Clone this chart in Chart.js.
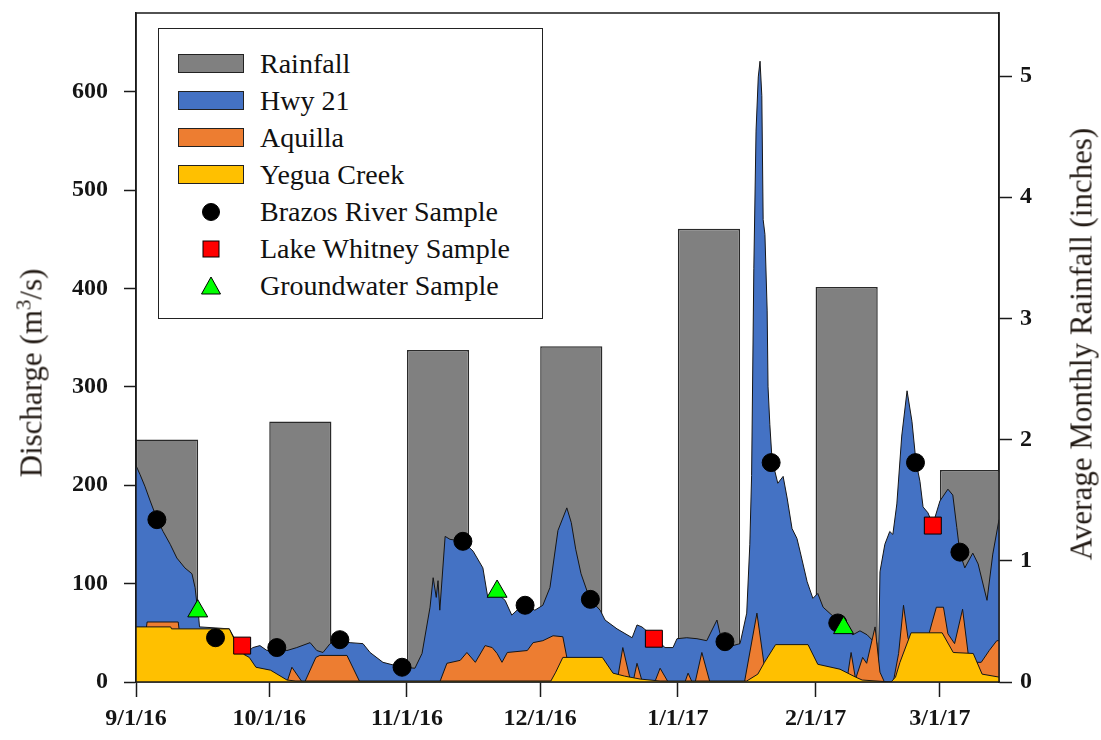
<!DOCTYPE html>
<html>
<head>
<meta charset="utf-8">
<title>Discharge and rainfall, Sep 2016 - Mar 2017</title>
<script src="https://cdn.jsdelivr.net/npm/chart.js@4.4.1/dist/chart.umd.min.js"></script>
<style>
  html, body { margin: 0; padding: 0; background: #fff; }
  #wrap { position: relative; width: 1101px; height: 740px; font-family: "Liberation Serif", "Times New Roman", serif; color: #111; }
  #chart { position: absolute; left: 0; top: 0; }
  .axis-title { position: absolute; white-space: nowrap; font-size: 31px; line-height: 1; color: #221a14;
                transform: translate(-50%, -50%) rotate(-90deg); }
  .axis-title sup { font-size: 0.68em; line-height: 0; }
  #legend { position: absolute; left: 158px; top: 28px; width: 385px; height: 291px; box-sizing: border-box;
            border: 1.5px solid #222; background: #fff; }
  .lg-row { position: absolute; left: 0; right: 0; height: 36px; }
  .lg-swatch { position: absolute; left: 19px; top: 8px; width: 66px; height: 19px; box-sizing: border-box; border: 1.5px solid #222; }
  .lg-mark { position: absolute; left: 41px; top: 7px; width: 22px; height: 22px; }
  .lg-text { position: absolute; left: 101px; top: 0; line-height: 36px; font-size: 28px; white-space: nowrap; color: #111; }
</style>
</head>
<body>
<div id="wrap">
  <canvas id="chart" width="1101" height="740"></canvas>
  <div class="axis-title" style="left:31px; top:373px;">Discharge (m<sup>3</sup>/s)</div>
  <div class="axis-title" style="left:1081px; top:344px;">Average Monthly Rainfall (inches)</div>
  <div id="legend"></div>
</div>
<script>
// Time axis: days since 9/1/16
const monthDays   = [0, 30, 61, 91, 122, 153, 181];
const monthLabels = ['9/1/16', '10/1/16', '11/1/16', '12/1/16', '1/1/17', '2/1/17', '3/1/17'];
const lastDay = 194.3;

// Tick values of the two value axes
const dischargeTicks = [0, 100, 200, 300, 400, 500, 600];
const rainfallTicks  = [0, 1, 2, 3, 4, 5];

// Average monthly rainfall (inches); each bar covers the first 14 days of its month
const rainfallInches = [2.0, 2.15, 2.74, 2.77, 3.74, 3.26, 1.75];
const RAIN_BAR_DAYS = 14;

// Daily discharge (m3/s) as [day, value]
const hwy21 = [
  [0,220],[0.9,211],[2,199],[3.2,184],[4.7,166],[6.1,153],[7.7,140],[9.2,126],[11,116],[12.6,110],
  [13.3,96],[13.7,80],[14,72],[14.3,56],[17.8,55],[21,54],[22.7,40],[24.5,28],[26.3,35],[27.9,37],
  [29.5,32],[31.7,35],[34,32],[36.2,35],[39.2,40],[40.7,32],[42.1,30],[43.7,39],[45.5,44],[48.2,40],
  [51.1,39],[52.7,30],[55.6,20],[59.9,15],[62.8,14],[64.4,29],[66.2,76],[66.9,106],[67.6,86],[68,103],
  [68.4,73],[69.6,148],[70.7,145],[73.6,143],[75.9,133],[78.1,116],[79.2,86],[81.3,90],[83.1,83],[84.6,68],
  [85.8,73],[87.6,78],[89.8,73],[91.6,78],[93.2,96],[95,154],[97,177],[98,162],[99,135],[100.2,110],
  [102.2,84],[104.5,73],[105.6,63],[108.3,54],[111.7,45],[112.8,58],[113.9,56],[116.8,45],[119.1,35],[120.9,35],
  [121.8,44],[124,45],[126.3,44],[128.5,42],[130.8,63],[131.5,49],[132.6,41],[134.4,37],[136,39],[137.5,70],
  [138.2,140],[138.6,210],[139.1,420],[139.6,560],[140.1,615],[140.5,631],[140.9,596],[141.2,470],[141.6,455],[142.1,378],
  [142.3,300],[142.7,262],[143.2,226],[144.5,202],[145.7,209],[146.6,187],[147.7,156],[148.8,146],[149.5,133],[151.1,102],
  [152.4,85],[153.5,90],[154.7,76],[156.9,67],[158,62],[159.6,55],[161.4,48],[163,52],[164.6,48],[165.9,42],
  [166.8,40],[167.1,2],[167.5,112],[168.6,140],[169.7,153],[170.4,150],[171.3,181],[172.4,250],[173.6,296],[174.7,265],
  [175.6,224],[176.5,204],[177.2,178],[178.3,172],[179.4,160],[181,184],[182.8,196],[183.9,190],[184.8,157],[185.5,131],
  [186.6,116],[188.4,131],[189.6,120],[191.6,83],[192.9,130],[194.3,165]
];
const aquilla = [
  [0,48],[2.2,50],[2.5,61],[9.5,61],[9.8,50],[20,42],[24,20],[27,8],[32,2],[34,0],
  [35.1,15],[37.4,0],[38,0],[40.5,25],[41.4,27],[47.5,27],[50.4,0],[68.4,0],[70,19],[73,22],
  [74.5,30],[76.4,20],[78.6,37],[80.2,35],[81.3,29],[82.4,20],[83.6,30],[88.1,32],[89.4,40],[91.6,42],
  [93.9,47],[96.1,46],[97,25],[98,5],[100,0],[108.3,0],[109.6,35],[111.4,0],[111.9,0],[112.8,19],
  [114,0],[116.8,0],[118,14],[119.8,0],[123.6,0],[124.3,9],[125.2,0],[125.9,0],[127.4,30],[129.2,0],
  [137,0],[139.8,70],[141.5,15],[142.5,20],[143.2,31],[144,22],[151,22],[154,10],[158,3],[160,0],
  [161,30],[162,3],[163.6,25],[164.5,19],[166.4,56],[167.5,10],[168.5,0],[170.5,0],[171.7,29],[172.8,78],
  [173.8,45],[174.5,35],[178,40],[179.2,60],[180.2,76],[181.8,76],[182.8,49],[184.3,39],[186.1,74],[187.6,20],
  [190.3,20],[192.1,32],[193.8,42],[194.3,42]
];
const yeguaCreek = [
  [0,56],[7.8,56],[8,54],[21,54],[22.5,40],[24.3,28],[25.5,25],[27,15],[30.3,12],[34,2],
  [36,1],[93.4,1],[94.5,10],[96.1,25],[105,25],[107.4,9],[110,6],[113.5,3],[118,1],[137.5,1],
  [140,8],[141.5,20],[144,38],[151.3,38],[153.5,18],[158.5,13],[162,5],[163.5,2],[170,0],[171,5],
  [172,20],[174.5,50],[181.5,50],[184,30],[188.5,29],[190.5,8],[194.3,5]
];

// Sample dates and discharge at sampling (m3/s)
const brazosSamples      = [[4.7,165],[17.9,45],[31.7,35],[45.9,43],[59.9,15],[73.6,143],[87.6,78],[102.3,84],[132.6,41],[143,223],[158,60],[175.5,223],[185.5,132]];
const whitneySamples     = [[23.9,37],[116.6,44],[179.4,159]];
const groundwaterSamples = [[13.9,72],[81.3,92],[159.3,55]];

const toXY = pts => pts.map(([x, y]) => ({ x, y }));

const areaStyle = (label, color, order, data) => ({
  type: 'line', label, data: toXY(data), yAxisID: 'y', order,
  backgroundColor: color, borderColor: '#151515', borderWidth: 1,
  fill: 'origin', pointRadius: 0, tension: 0
});

const markStyle = (label, style, radius, color, order, data) => ({
  type: 'scatter', label, data: toXY(data), yAxisID: 'y', order,
  pointStyle: style, pointRadius: radius, pointHoverRadius: radius,
  backgroundColor: color, borderColor: '#000', borderWidth: 1, showLine: false
});

const rainfallSet = {
  type: 'bar', label: 'Rainfall', yAxisID: 'y2', order: 10, clip: 0,
  data: rainfallInches.map((v, i) => ({ x: monthDays[i] + RAIN_BAR_DAYS / 2, y: v })),
  backgroundColor: '#808080', borderColor: '#2a2a2a', borderWidth: 1.5, borderSkipped: false,
  barPercentage: 0.5, categoryPercentage: 1
};
const hwySet     = areaStyle('Hwy 21', '#4472C4', 6, hwy21);
const aquillaSet = areaStyle('Aquilla', '#ED7D31', 5, aquilla);
const yeguaSet   = areaStyle('Yegua Creek', '#FFC000', 4, yeguaCreek);
const brazosSet  = markStyle('Brazos River Sample', 'circle', 9, '#000', 2, brazosSamples);
const whitneySet = markStyle('Lake Whitney Sample', 'rect', 12, '#FF0000', 1, whitneySamples);
const groundSet  = markStyle('Groundwater Sample', 'triangle', 11.5, '#00FF00', 0, groundwaterSamples);

const tickFont = { family: '"Liberation Serif", "Times New Roman", serif', size: 24, weight: 'bold' };
const tickColor = '#151515';

// Fixed axis bands so the plot sits in its frame
const fixBand = (prop, size) => scale => {
  scale[prop] = size;
  scale.paddingTop = 0; scale.paddingBottom = 0; scale.paddingLeft = 0; scale.paddingRight = 0;
};

// Black rectangle round the plotting area, drawn over the filled areas
const framePlugin = {
  id: 'frame',
  afterDatasetsDraw(chart) {
    const { ctx, chartArea: a } = chart;
    ctx.save();
    ctx.strokeStyle = '#1a1a1a';
    ctx.lineWidth = 1.5;
    ctx.strokeRect(a.left, a.top, a.right - a.left, a.bottom - a.top);
    ctx.restore();
  }
};

const chart = new Chart(document.getElementById('chart'), {
  type: 'line',
  data: { datasets: [rainfallSet, hwySet, aquillaSet, yeguaSet, brazosSet, whitneySet, groundSet] },
  options: {
    responsive: false,
    animation: false,
    events: [],
    layout: { padding: { top: 8, left: 0, right: 0, bottom: 0 } },
    plugins: { legend: { display: false }, tooltip: { enabled: false } },
    scales: {
      x: {
        type: 'linear', position: 'bottom', min: 0, max: lastDay, offset: false,
        afterBuildTicks: s => { s.ticks = monthDays.map(v => ({ value: v })); },
        afterFit: fixBand('height', 58),
        grid: { display: true, offset: false, drawOnChartArea: false, drawTicks: true, tickLength: 15, tickColor: '#1a1a1a', tickWidth: 1.5 },
        border: { display: true, color: '#1a1a1a', width: 1.5 },
        ticks: { autoSkip: false, maxRotation: 0, padding: 7, color: tickColor,
                 font: { family: tickFont.family, size: 24, weight: 'bold' },
                 callback: (value, index) => monthLabels[index] }
      },
      y: {
        type: 'linear', position: 'left', min: 0, max: 680,
        afterBuildTicks: s => { s.ticks = dischargeTicks.map(v => ({ value: v })); },
        afterFit: fixBand('width', 136),
        grid: { display: true, drawOnChartArea: false, drawTicks: true, tickLength: 12, tickColor: '#1a1a1a', tickWidth: 1.5 },
        border: { display: true, color: '#1a1a1a', width: 1.5 },
        ticks: { padding: 16, color: tickColor, font: tickFont }
      },
      y2: {
        type: 'linear', position: 'right', min: 0, max: 5.52,
        afterBuildTicks: s => { s.ticks = rainfallTicks.map(v => ({ value: v })); },
        afterFit: fixBand('width', 102),
        grid: { display: true, drawOnChartArea: false, drawTicks: true, tickLength: 13, tickColor: '#1a1a1a', tickWidth: 1.5 },
        border: { display: true, color: '#1a1a1a', width: 1.5 },
        ticks: { padding: 8, color: tickColor, font: tickFont }
      }
    }
  },
  plugins: [framePlugin]
});

// Legend box built from the datasets
const svgNS = 'http://www.w3.org/2000/svg';
function markerSvg(ds) {
  const svg = document.createElementNS(svgNS, 'svg');
  svg.setAttribute('width', '22'); svg.setAttribute('height', '22');
  let shape;
  if (ds.pointStyle === 'circle') {
    shape = document.createElementNS(svgNS, 'circle');
    shape.setAttribute('cx', '11'); shape.setAttribute('cy', '11'); shape.setAttribute('r', '8.5');
  } else if (ds.pointStyle === 'rect') {
    shape = document.createElementNS(svgNS, 'rect');
    shape.setAttribute('x', '3'); shape.setAttribute('y', '3'); shape.setAttribute('width', '16'); shape.setAttribute('height', '16');
  } else {
    shape = document.createElementNS(svgNS, 'polygon');
    shape.setAttribute('points', '11,2 20.5,19 1.5,19');
  }
  shape.setAttribute('fill', ds.backgroundColor);
  shape.setAttribute('stroke', '#000');
  shape.setAttribute('stroke-width', '1');
  svg.appendChild(shape);
  return svg;
}
const legendEl = document.getElementById('legend');
[rainfallSet, hwySet, aquillaSet, yeguaSet, brazosSet, whitneySet, groundSet].forEach((ds, i) => {
  const row = document.createElement('div');
  row.className = 'lg-row';
  row.style.top = (17 + i * 37) + 'px';
  if (ds.type === 'scatter') {
    const m = document.createElement('div');
    m.className = 'lg-mark';
    m.appendChild(markerSvg(ds));
    row.appendChild(m);
  } else {
    const sw = document.createElement('div');
    sw.className = 'lg-swatch';
    sw.style.background = ds.backgroundColor;
    row.appendChild(sw);
  }
  const t = document.createElement('div');
  t.className = 'lg-text';
  t.textContent = ds.label;
  row.appendChild(t);
  legendEl.appendChild(row);
});
</script>
</body>
</html>
